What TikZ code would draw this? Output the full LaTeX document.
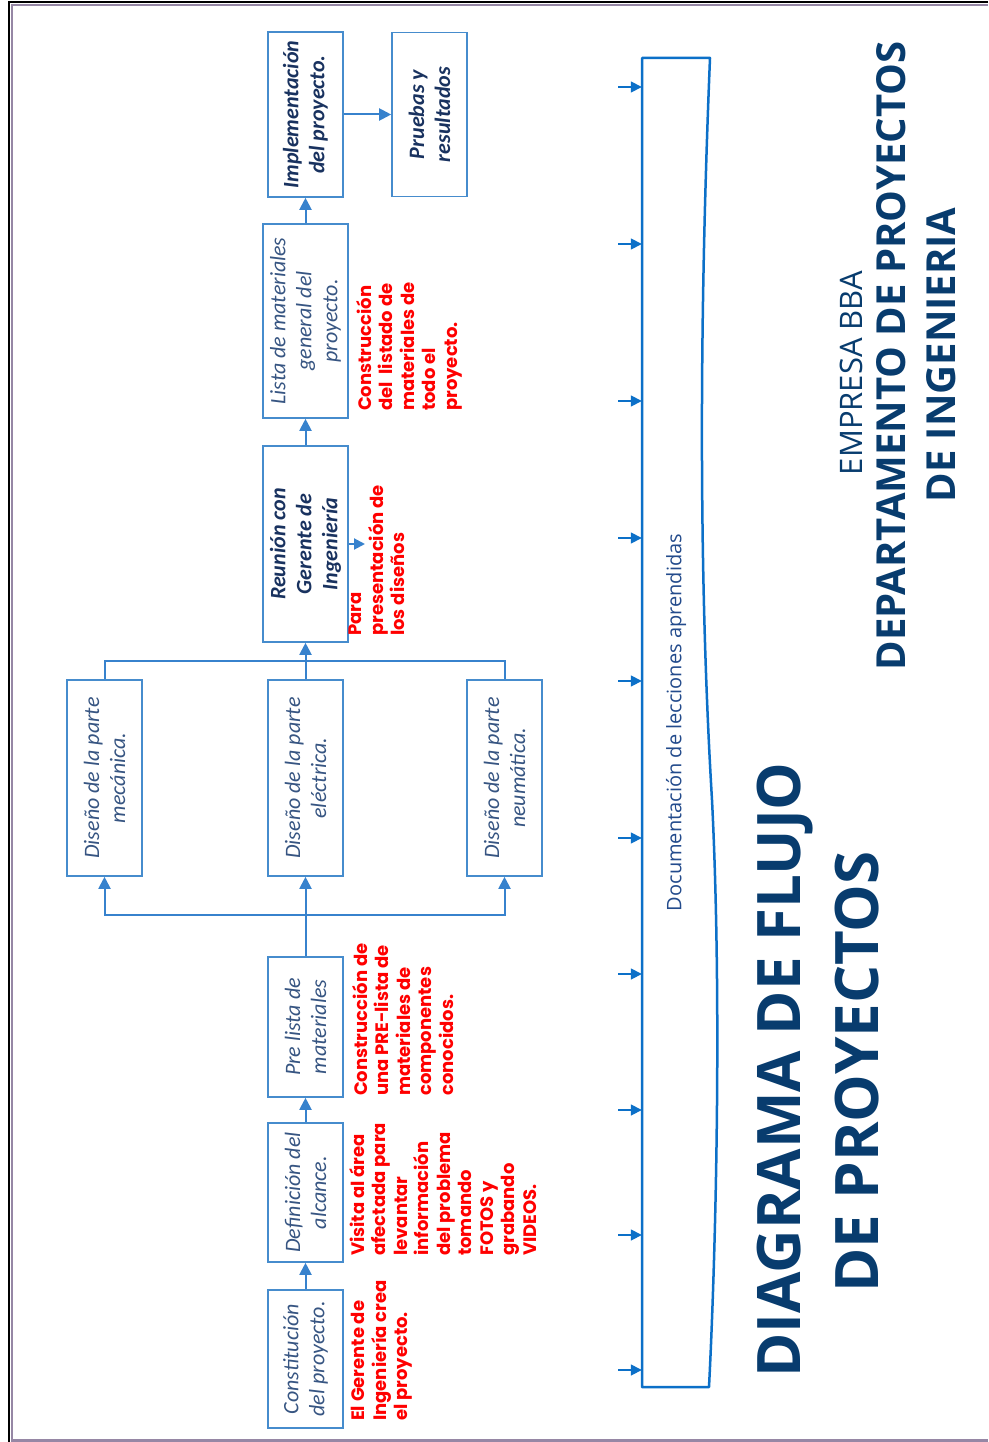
\documentclass[tikz,border=0pt]{standalone}
\usepackage{fontspec}
\setmainfont{Carlito}
\newfontfamily\notefont{Poppins}
\newfontfamily\headfont{Open Sans}
\usetikzlibrary{arrows.meta}

\definecolor{frameblue}{RGB}{70,140,205}
\definecolor{linkblue}{RGB}{55,130,205}
\definecolor{docblue}{RGB}{12,112,200}
\definecolor{boxtext}{RGB}{55,85,130}
\definecolor{boxdark}{RGB}{25,50,95}
\definecolor{notered}{RGB}{255,0,0}
\definecolor{titleblue}{RGB}{8,60,110}
\definecolor{docfont}{RGB}{35,75,140}
\definecolor{edgepurple}{RGB}{150,135,165}

\tikzset{
  stepbox/.style={draw=frameblue, line width=1.6pt, rotate=90, align=center,
    inner sep=2pt, text=boxtext, font=\fontsize{22}{26}\selectfont\itshape},
  boldbox/.style={stepbox, text=boxdark, font=\fontsize{22}{26}\selectfont\bfseries\itshape},
  link/.style={draw=linkblue, line width=2pt},
  arr/.style={link, -{Triangle[length=12pt,width=12pt]}},
  smallarr/.style={draw=docblue, line width=1.6pt, -{Triangle[length=11pt,width=11pt]}},
  note/.style={rotate=90, align=left, inner sep=0pt, anchor=north west, text=notered,
    font=\notefont\bfseries\fontsize{18}{21.5}\selectfont},
  titletext/.style={rotate=90, inner sep=0pt, anchor=base, text=titleblue,
    font=\headfont\bfseries\fontsize{60}{72}\selectfont},
  headtext/.style={rotate=90, inner sep=0pt, anchor=base, text=titleblue,
    font=\headfont\fontsize{31}{36}\selectfont},
  headbold/.style={headtext, font=\headfont\bfseries\fontsize{40}{48}\selectfont}
}

\begin{document}
\begin{tikzpicture}[x=1pt,y=-1pt]
\useasboundingbox (0,0) rectangle (988,1442);
\fill[white] (0,0) rectangle (988,1442);

% page edge
\draw[line width=2pt, black] (9,1442) -- (9,2) -- (988,2);
\draw[line width=1.5pt, edgepurple] (12,1439) -- (12,5) -- (988,5);
\draw[line width=2.5pt, edgepurple] (11,1440.5) -- (988,1440.5);

% process steps
\node[stepbox, minimum width=138pt, minimum height=75pt] (con) at (305.5,1359) {Constitución\\del proyecto.};
\node[stepbox, minimum width=139pt, minimum height=75pt] (def) at (305.5,1192.5) {Definición del\\alcance.};
\node[stepbox, minimum width=140pt, minimum height=75pt] (pre) at (305.5,1027) {Pre lista de\\materiales};
\node[stepbox, minimum width=196pt, minimum height=75pt] (mec) at (104.5,778) {Diseño de la parte\\mecánica.};
\node[stepbox, minimum width=196pt, minimum height=75pt] (ele) at (305.5,778) {Diseño de la parte\\eléctrica.};
\node[stepbox, minimum width=196pt, minimum height=75pt] (neu) at (504.5,778) {Diseño de la parte\\neumática.};
\node[boldbox, minimum width=196pt, minimum height=85pt] (reu) at (305.5,544) {Reunión con\\Gerente de\\Ingeniería};
\node[stepbox, minimum width=194pt, minimum height=85pt] (lis) at (305.5,321) {Lista de materiales\\general del\\proyecto.};
\node[boldbox, minimum width=165pt, minimum height=75pt] (imp) at (305.5,114.5) {Implementación\\del proyecto.};
\node[boldbox, minimum width=164pt, minimum height=75pt] (pru) at (429.5,114.5) {Pruebas y\\resultados};

% connectors
\coordinate (jb) at (305.5,915);
\coordinate (jt) at (305.5,661);
\coordinate (pa) at (365,544);
\draw[arr] (con) -- (def);
\draw[arr] (def) -- (pre);
\draw[link] (pre) -- (jb);
\draw[arr] (jb) -| (mec);
\draw[arr] (jb) -- (ele);
\draw[arr] (jb) -| (neu);
\draw[link] (mec) |- (jt);
\draw[link] (neu) |- (jt);
\draw[arr] (ele) -- (reu);
\draw[arr, -{Triangle[length=11pt,width=11pt]}] (reu.south) -- (pa);
\draw[arr] (reu) -- (lis);
\draw[arr] (lis) -- (imp);
\draw[arr] (imp) -- (pru);

% notes
\node[note] (n1) at (351,1421) {El Gerente de\\Ingeniería crea\\el proyecto.};
\node[note] (n2) at (349,1256) {Visita al área\\afectada para\\levantar\\información\\del problema\\tomando\\FOTOS y\\grabando\\VIDEOS.};
\node[note] (n3) at (352,1096) {Construcción de\\una PRE-lista de\\materiales de\\componentes\\conocidos.};
\node[note] (n4) at (349,636) {Para\\presentación de\\los diseños};
\node[note] (n5) at (356,411) {Construcción\\del~ listado de\\materiales de\\todo el\\proyecto.};

% lessons learned band
\draw[docblue, line width=2.5pt, line join=round]
  (642,58) -- (710,58) .. controls (698,350) and (700,600) .. (712,800)
  .. controls (722,1000) and (716,1250) .. (709,1387) -- (642,1387) -- cycle;
\node[rotate=90, minimum width=1329pt, minimum height=68pt, inner sep=0pt, text=docfont,
  font=\headfont\fontsize{20}{24}\selectfont] (doc) at (676,722.5) {Documentación de lecciones aprendidas};
\foreach \yy [count=\i] in {87,244,401,538,681,838,974,1110,1235,1370} {
  \coordinate (in\i) at (618,\yy);
  \draw[smallarr] (in\i) -- (in\i -| doc.north);
}

% titles
\node[titletext] (t1) at (800,1070) {DIAGRAMA DE FLUJO};
\node[titletext] (t2) at (878,1072) {DE PROYECTOS};
\node[headtext] (h1) at (862,373) {EMPRESA BBA};
\node[headbold] (h2) at (905,356) {DEPARTAMENTO DE PROYECTOS};
\node[headbold] (h3) at (955,355) {DE INGENIERIA};
\end{tikzpicture}
\end{document}
